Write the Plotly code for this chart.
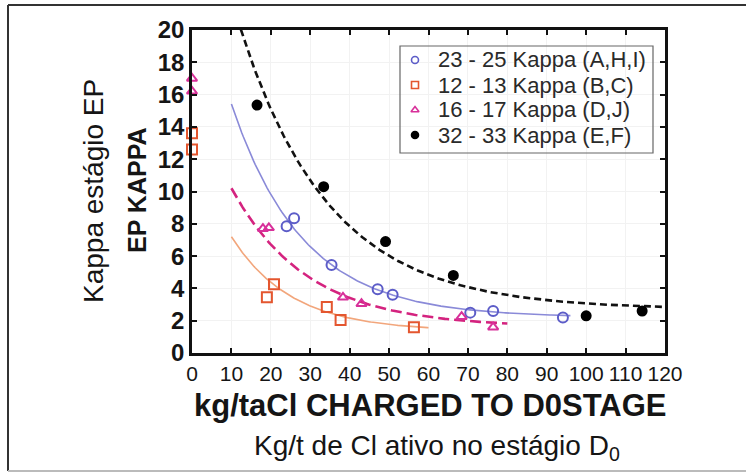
import numpy as np
import plotly.graph_objects as go

# ---- measured points: kg/t active Cl charged to D0 vs. EP kappa ----
x_2325 = [24.0, 25.9, 35.4, 47.1, 50.9, 70.6, 76.4, 94.1]
y_2325 = [7.85, 8.35, 5.45, 3.95, 3.6, 2.5, 2.6, 2.2]

x_1213 = [0, 0, 19.0, 20.8, 34.2, 37.7, 56.3]
y_1213 = [13.6, 12.6, 3.45, 4.25, 2.85, 2.05, 1.6]

x_1617 = [0, 0, 18.0, 19.5, 38.3, 43.0, 68.4, 76.4]
y_1617 = [17.0, 16.2, 7.7, 7.75, 3.45, 3.05, 2.25, 1.6]

x_3233 = [16.5, 33.4, 49.1, 66.3, 100.0, 114.2]
y_3233 = [15.35, 10.3, 6.9, 4.8, 2.3, 2.6]

# ---- fitted decay curves y = c + A*exp(-k*x), with their x spans ----
fit_2325 = dict(c=2.2, A=22.96, k=0.0552, x0=10.0, x1=96.0)
fit_1213 = dict(c=1.35, A=11.32, k=0.066, x0=10.0, x1=60.0)
fit_1617 = dict(c=1.6, A=14.47, k=0.052, x0=10.0, x1=80.0)
fit_3233 = dict(c=2.7, A=29.9, k=0.044, x0=12.4, x1=120.0)

labels = ["23 - 25 Kappa (A,H,I)", "12 - 13 Kappa (B,C)",
          "16 - 17 Kappa (D,J)", "32 - 33 Kappa (E,F)"]

x_ticks = list(range(0, 121, 10))
y_ticks = list(range(0, 21, 2))

SANS = "Liberation Sans, Arial, sans-serif"
INK = "#151515"

W, H = 746, 474
L, R, T, B = 192, 665, 30, 353  # plot area in pixels


def px_x(px):
    return (px - L) / (R - L)


def px_y(py):
    return (B - py) / (B - T)


def curve(p):
    xs = np.linspace(p["x0"], p["x1"], 200)
    return xs, p["c"] + p["A"] * np.exp(-p["k"] * xs)


fig = go.Figure()

# fitted curves
for p, color, width, dash in [
    (fit_3233, "#111111", 2.6, "7px,4px"),
    (fit_2325, "#8a8ad8", 1.6, "solid"),
    (fit_1617, "#d4237f", 2.6, "11px,5px"),
    (fit_1213, "#f2a67c", 1.6, "solid"),
]:
    cx, cy = curve(p)
    fig.add_trace(go.Scatter(x=cx, y=cy, mode="lines", showlegend=False,
                             hoverinfo="skip",
                             line=dict(color=color, width=width, dash=dash)))

# measured points
series = [
    (x_2325, y_2325, labels[0], "circle-open", "#5c5cc8", 10),
    (x_1213, y_1213, labels[1], "square-open", "#e4562f", 10),
    (x_1617, y_1617, labels[2], "triangle-up-open", "#d8309a", 9),
    (x_3233, y_3233, labels[3], "circle", "#000000", 9),
]
for xs, ys, name, sym, col, sz in series:
    fig.add_trace(go.Scatter(x=xs, y=ys, mode="markers", name=name,
                             showlegend=False, cliponaxis=False,
                             marker=dict(symbol=sym, color=col, size=sz,
                                         line=dict(color=col, width=2))))

# key box: one small symbol and one label per series
key_rows = [60, 85, 110, 135]
key_sym_x = 415
key_text_x = 436
fig.add_trace(go.Scatter(
    x=[px_x(key_sym_x)] * len(series),
    y=[px_y(r) for r in key_rows],
    xaxis="x2", yaxis="y2", mode="markers", showlegend=False,
    hoverinfo="skip",
    marker=dict(symbol=[s[3] for s in series],
                color=[s[4] for s in series], size=7,
                line=dict(color=[s[4] for s in series], width=1.6)),
))

annotations = [
    dict(text="Kappa estágio EP", x=px_x(93), y=px_y(191), textangle=-90,
         font=dict(family=SANS, size=28, color=INK)),
    dict(text="<b>EP KAPPA</b>", x=px_x(137), y=px_y(190), textangle=-90,
         font=dict(family=SANS, size=25, color=INK)),
    dict(text="<b>kg/taCl CHARGED TO D0STAGE</b>", x=px_x(430), y=px_y(405),
         font=dict(family=SANS, size=31, color=INK)),
    dict(text="Kg/t de Cl ativo no estágio D<sub>0</sub>", x=px_x(437), y=px_y(447),
         font=dict(family=SANS, size=28, color=INK)),
]
for a in annotations:
    a.update(xanchor="center", yanchor="middle")
for name, r in zip(labels, key_rows):
    annotations.append(dict(text=name, x=px_x(key_text_x), y=px_y(r),
                            xanchor="left", yanchor="middle",
                            font=dict(family=SANS, size=22, color="#2a2a2a")))
for a in annotations:
    a.update(xref="paper", yref="paper", showarrow=False)

shapes = [
    # key box outline
    dict(type="rect", x0=px_x(400), x1=px_x(653), y0=px_y(46), y1=px_y(153),
         line=dict(color="#666666", width=1.2), fillcolor="rgba(0,0,0,0)"),
    # outer frame around the whole figure
    dict(type="line", x0=px_x(8), x1=px_x(8), y0=px_y(5), y1=px_y(471),
         line=dict(color="#333333", width=2)),
    dict(type="line", x0=px_x(8), x1=px_x(746), y0=px_y(5), y1=px_y(5),
         line=dict(color="#333333", width=2)),
    dict(type="line", x0=px_x(8), x1=px_x(746), y0=px_y(471), y1=px_y(471),
         line=dict(color="#bbbbbb", width=2)),
]
for s in shapes:
    s.update(xref="paper", yref="paper")

axis_common = dict(showline=True, linecolor="#111111", linewidth=2.5,
                   mirror="ticks", ticks="inside", ticklen=5, tickwidth=1.5,
                   tickcolor="#111111", showgrid=True, gridcolor="#f2f2f2",
                   zeroline=False)

fig.update_layout(
    width=W, height=H,
    margin=dict(l=L, r=W - R, t=T, b=H - B, pad=0),
    paper_bgcolor="white", plot_bgcolor="white",
    showlegend=False,
    xaxis=dict(range=[0, 120], tickvals=x_ticks,
               tickfont=dict(family=SANS, size=21, color=INK),
               **axis_common),
    yaxis=dict(range=[0, 20], tickvals=y_ticks,
               tickfont=dict(family=SANS, size=24, color=INK, weight="bold"),
               **axis_common),
    xaxis2=dict(range=[0, 1], overlaying="x", visible=False, fixedrange=True),
    yaxis2=dict(range=[0, 1], overlaying="y", visible=False, fixedrange=True),
    annotations=annotations,
    shapes=shapes,
)

fig.write_html("out.html")
